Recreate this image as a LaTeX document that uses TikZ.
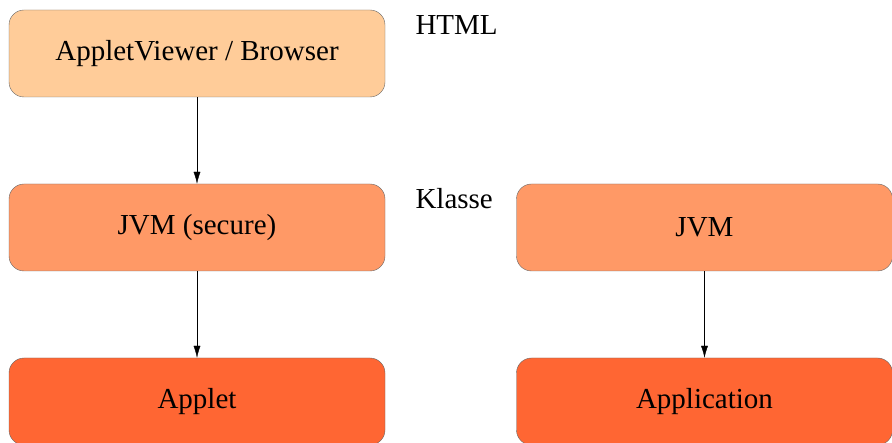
\documentclass[tikz,border=0pt]{standalone}
\usepackage{fontspec}
\setmainfont{Liberation Serif}
\usetikzlibrary{arrows.meta}
\begin{document}
\begin{tikzpicture}[x=1pt,y=1pt,
  box/.style={draw=black!60,rounded corners=15pt,minimum width=376pt,minimum height=87pt,font=\fontsize{29}{34}\selectfont},
  lbl/.style={anchor=west,font=\fontsize{29}{34}\selectfont},
  >={Latex[length=12pt,width=7pt]}]
\useasboundingbox (0,0) rectangle (892,-443);
\node[box,fill={rgb,255:red,255;green,204;blue,153}] (viewer) at (197,-53.5) {AppletViewer / Browser};
\node[box,fill={rgb,255:red,255;green,153;blue,102}] (jvmsec) at (197,-227.5) {JVM (secure)};
\node[box,fill={rgb,255:red,255;green,102;blue,51}] (applet) at (197,-401.5) {Applet};
\node[box,fill={rgb,255:red,255;green,153;blue,102}] (jvm) at (704.5,-227.5) {JVM};
\node[box,fill={rgb,255:red,255;green,102;blue,51}] (app) at (704.5,-401.5) {Application};
\node[lbl] (html) at (412,-25) {HTML};
\node[lbl] (klasse) at (412,-199) {Klasse};
\draw[->] (viewer) -- (jvmsec);
\draw[->] (jvmsec) -- (applet);
\draw[->] (jvm) -- (app);
\end{tikzpicture}
\end{document}
